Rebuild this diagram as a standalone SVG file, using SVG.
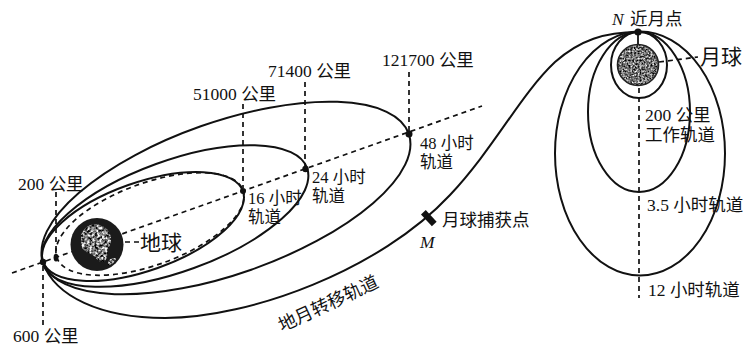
<svg xmlns="http://www.w3.org/2000/svg" width="746" height="345" viewBox="0 0 746 345">
  <defs>
    <style>
      .orbit{fill:none;stroke:#111;stroke-width:2}
      .dash{fill:none;stroke:#111;stroke-width:1.7;stroke-dasharray:5 4}
      .lbl{font-family:"Liberation Serif","Noto Sans CJK SC",serif;font-size:17.5px;fill:#111}
      .sm{font-size:16.5px}
      .big{font-size:21px}
      .it{font-style:italic}
      .dot{fill:#111}
    </style>
    <filter id="speckleMoon" x="0" y="0" width="1" height="1" color-interpolation-filters="sRGB">
      <feTurbulence type="fractalNoise" baseFrequency="0.55" numOctaves="2" seed="5" result="n"/>
      <feColorMatrix in="n" type="matrix" values="1.7 0 0 0 -0.4  1.7 0 0 0 -0.4  1.7 0 0 0 -0.4  0 0 0 0 1" result="g"/>
      <feComposite in="g" in2="SourceGraphic" operator="in"/>
    </filter>
    <filter id="speckleLand" x="0" y="0" width="1" height="1" color-interpolation-filters="sRGB">
      <feTurbulence type="fractalNoise" baseFrequency="0.4" numOctaves="2" seed="11" result="n"/>
      <feColorMatrix in="n" type="matrix" values="2.2 0 0 0 -0.6  2.2 0 0 0 -0.6  2.2 0 0 0 -0.6  0 0 0 0 1" result="g"/>
      <feComposite in="g" in2="SourceGraphic" operator="in"/>
    </filter>
  </defs>

  <rect width="746" height="345" fill="#fff"/>

  <!-- orbits, axes and leader lines -->
  <g id="connectors">
    <!-- Earth-side apsidal axis -->
    <line class="dash" x1="12" y1="273" x2="482" y2="106"/>
    <!-- 200 km parking ellipse (dashed) -->
    <ellipse class="dash" cx="150" cy="224" rx="99" ry="41" transform="rotate(-20 150 224)"/>
    <!-- 16 h, 24 h, 48 h phasing orbits -->
    <ellipse class="orbit" cx="143" cy="226.5" rx="106" ry="44" transform="rotate(-19.5 143 226.5)"/>
    <ellipse class="orbit" cx="175" cy="216" rx="140.5" ry="55.4" transform="rotate(-20 175 216)"/>
    <ellipse class="orbit" cx="226" cy="198" rx="193.7" ry="76" transform="rotate(-19.4 226 198)"/>
    <!-- Earth–Moon transfer trajectory -->
    <path class="orbit" d="M43,263 C55,296 100,318 165,318 C250,318 380,270 450,195 C495,147 520,95 555,62 C580,40 605,32 638,32"/>
    <!-- lunar orbits -->
    <ellipse class="orbit" cx="639" cy="65" rx="28" ry="33"/>
    <ellipse class="orbit" cx="639" cy="112" rx="51" ry="80"/>
    <ellipse class="orbit" cx="640" cy="153.5" rx="85" ry="122"/>
    <!-- altitude leaders -->
    <line class="dash" x1="56" y1="192" x2="56" y2="254"/>
    <line class="dash" x1="43" y1="266" x2="43" y2="326"/>
    <line class="dash" x1="243" y1="104" x2="243" y2="188"/>
    <line class="dash" x1="305" y1="82" x2="305" y2="166"/>
    <line class="dash" x1="409" y1="72" x2="409" y2="131"/>
    <!-- lunar axis -->
    <line stroke="#111" stroke-width="1.8" x1="638" y1="32" x2="638" y2="45"/>
    <line class="dash" x1="639" y1="88" x2="639" y2="298"/>
    <!-- name pointers -->
    <line class="dash" stroke-dasharray="4 4" x1="125" y1="242" x2="139" y2="242"/>
    <line class="dash" stroke-dasharray="4 4" x1="659" y1="62" x2="698" y2="57"/>
  </g>

  <!-- Earth -->
  <g id="earth">
    <circle cx="97" cy="244.5" r="26.5" fill="#1b1b1b"/>
    <path d="M82,233 C86,224 97,222 104,227 C111,231 113,240 109,247 C106,254 109,259 103,262 C98,263 96,256 91,254 C86,252 80,249 81,243 C82,239 80,237 82,233 Z" fill="#999" filter="url(#speckleLand)"/>
    <path d="M108,261 C111,258 115,257 116,259 C114,263 111,265 108,265 Z" fill="#888" filter="url(#speckleLand)"/>
  </g>

  <!-- Moon -->
  <g id="moon">
    <circle cx="638" cy="65" r="20.5" fill="#888" filter="url(#speckleMoon)"/>
    <circle cx="638" cy="65" r="20.5" fill="none" stroke="#222" stroke-width="1.6"/>
  </g>

  <!-- orbit points -->
  <g id="points">
    <circle class="dot" cx="43" cy="262" r="3.2"/>
    <ellipse class="dot" cx="56" cy="257.5" rx="2.4" ry="4"/>
    <circle class="dot" cx="243" cy="191" r="3"/>
    <circle class="dot" cx="305.5" cy="169" r="3.2"/>
    <circle class="dot" cx="409" cy="134" r="3.5"/>
    <circle class="dot" cx="638" cy="32" r="3.6"/>
    <rect class="dot" x="421" y="215" width="16" height="6.5" transform="rotate(47 429 218)"/>
  </g>

  <!-- labels -->
  <g id="labels">
    <text class="lbl" x="18" y="190">200 公里</text>
    <text class="lbl" x="13" y="342">600 公里</text>
    <text class="lbl big" x="140" y="250">地球</text>
    <text class="lbl" x="193" y="100">51000 公里</text>
    <text class="lbl" x="268" y="77">71400 公里</text>
    <text class="lbl" x="382" y="66">121700 公里</text>
    <text class="lbl sm" x="248" y="204">16 小时</text>
    <text class="lbl sm" x="248" y="223">轨道</text>
    <text class="lbl sm" x="312" y="183">24 小时</text>
    <text class="lbl sm" x="312" y="202">轨道</text>
    <text class="lbl sm" x="420" y="149">48 小时</text>
    <text class="lbl sm" x="420" y="168">轨道</text>
    <text class="lbl" x="442" y="226">月球捕获点</text>
    <text class="lbl it" x="420" y="248">M</text>
    <text class="lbl" transform="translate(282,332) rotate(-25)" style="font-size:18px">地月转移轨道</text>
    <text class="lbl it" x="612" y="25">N</text>
    <text class="lbl" x="630" y="25">近月点</text>
    <text class="lbl big" x="700" y="64">月球</text>
    <text class="lbl" x="645" y="121">200 公里</text>
    <text class="lbl" x="645" y="141">工作轨道</text>
    <text class="lbl" x="647" y="211">3.5 小时轨道</text>
    <text class="lbl" x="648" y="296">12 小时轨道</text>
  </g>
</svg>
